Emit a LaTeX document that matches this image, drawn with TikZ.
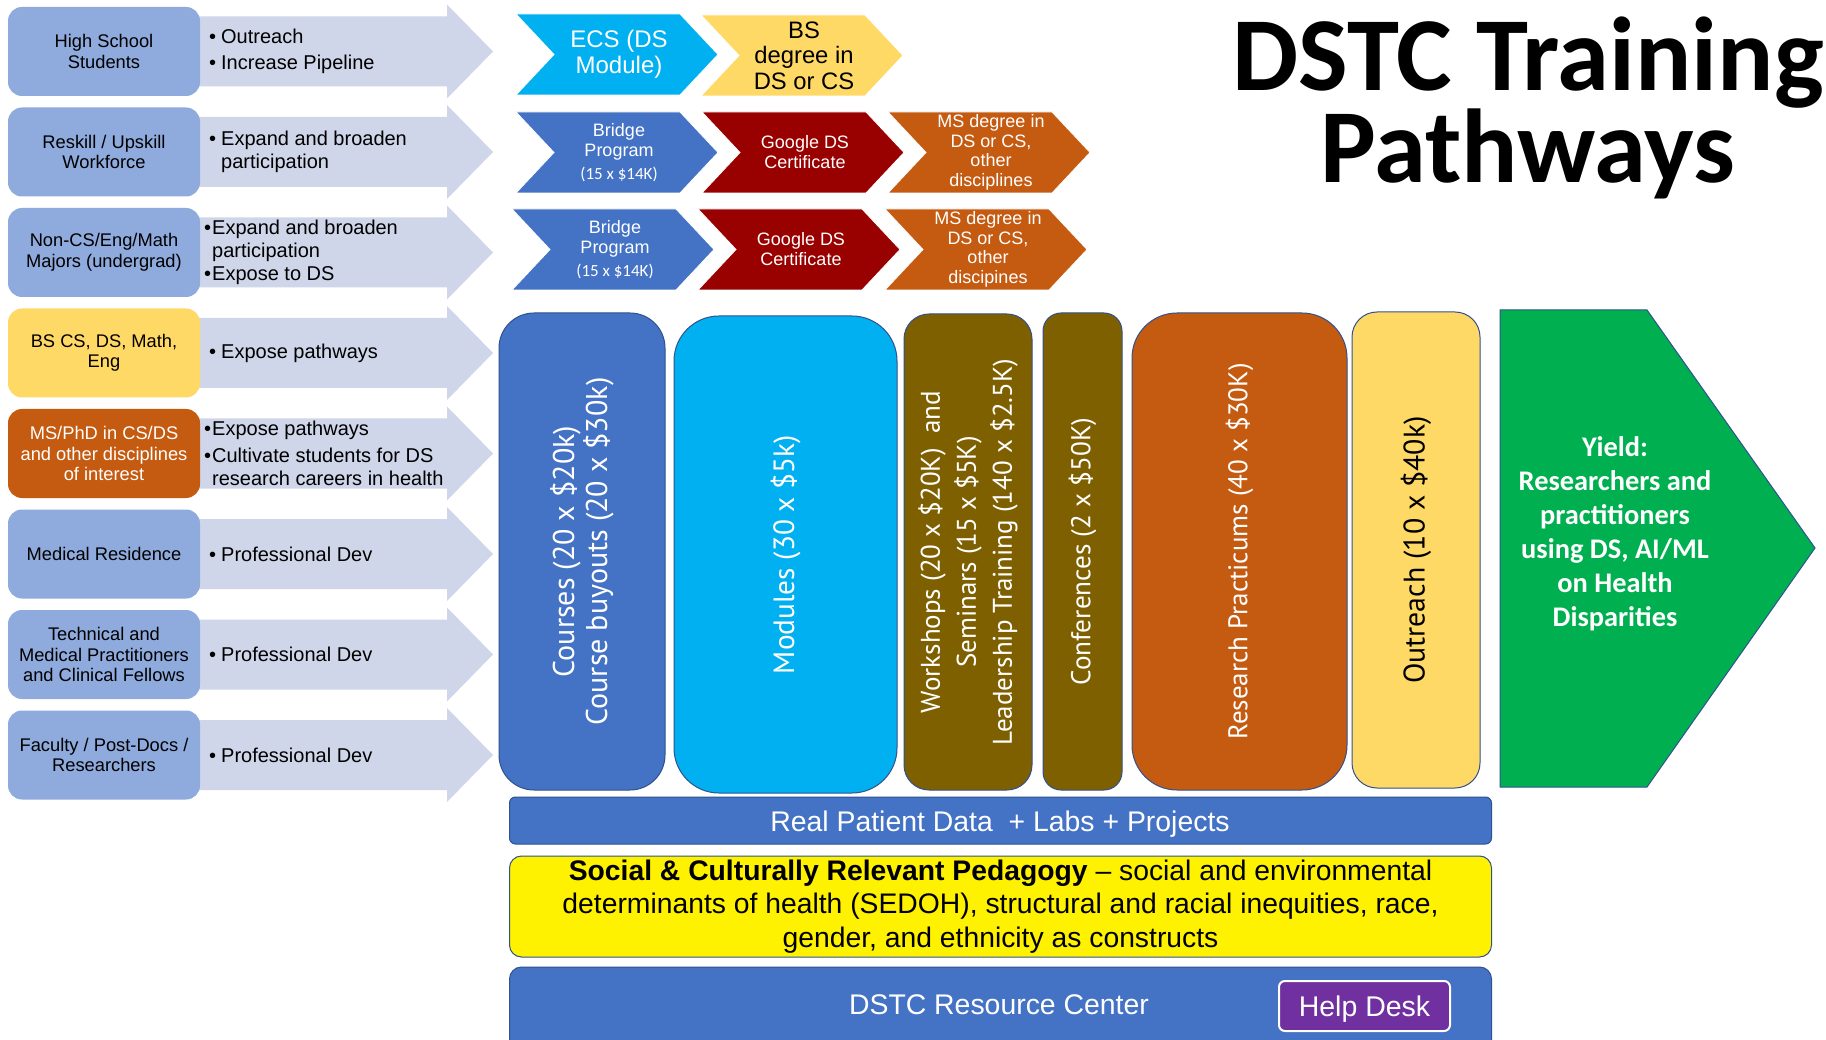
\documentclass[tikz,border=0pt]{standalone}
\usepackage{fontspec}
\setmainfont{Liberation Sans}
\newfontfamily\titlefont{Carlito}
\newfontfamily\colfont{PT Sans}
\usetikzlibrary{positioning}
\definecolor{boxblue}{HTML}{8FAADC}
\definecolor{arrowgrey}{HTML}{D0D6EA}
\definecolor{paleyellow}{HTML}{FFD966}
\definecolor{rust}{HTML}{C55A11}
\definecolor{skyblue}{HTML}{00B0F0}
\definecolor{midblue}{HTML}{4472C4}
\definecolor{darkred}{HTML}{990000}
\definecolor{olive}{HTML}{7F6000}
\definecolor{yieldgreen}{HTML}{00B050}
\definecolor{edgeblue}{HTML}{2F528F}
\definecolor{helppurple}{HTML}{7030A0}
\newcommand{\px}[2]{\fontsize{#1pt}{#2pt}\selectfont}
\newcommand{\bul}[1][12pt]{\makebox[#1][l]{•}}
\newcommand{\ind}[1][12pt]{\hspace*{#1}}
\newcommand{\chevron}[6]{%
  \fill[#4, draw=white, line width=0.8pt] (#2,#3) -- (#2+164,#3) -- (#2+202,#3+40.5)
    -- (#2+164,#3+81) -- (#2,#3+81) -- (#2+38,#3+40.5) -- cycle;
  \node[chevtext, #5] (#1) at (#2+103,#3+40.5) {#6};
}

\begin{document}
\begin{tikzpicture}[x=1pt, y=-1pt]
  \tikzset{
    grpbox/.style={rounded corners=14pt, fill=boxblue, minimum width=192pt, minimum height=89pt,
      align=center, font=\px{18.3}{20.5}, inner sep=2pt},
    bultext/.style={anchor=west, align=left, font=\px{20}{23}, inner sep=0pt},
    chevtext/.style={align=center, text=white, font=\px{18}{20}, inner sep=0pt},
    column/.style={rotate=90, rounded corners=#1, draw=edgeblue, line width=1pt, align=center,
      text=white, inner sep=0pt},
    bar/.style={draw=edgeblue, line width=1pt, minimum width=982pt, align=center, font=\px{28.3}{33.8}},
    heading/.style={font=\titlefont\bfseries\px{105}{86}, inner sep=0pt, align=center}
  }
  \useasboundingbox (0,0) rectangle (1826,1040);
  \clip (0,0) rectangle (1826,1040);
  \fill[white] (0,0) rectangle (1826,1040);

  % grey arrows behind the groups
  \foreach \i [evaluate=\i as \c using 51.5+100.5*\i] in {0,...,7} {
    \fill[arrowgrey] (195,\c-35) -- (447,\c-35) -- (447,\c-47) -- (493,\c)
      -- (447,\c+47) -- (447,\c+35) -- (195,\c+35) -- cycle;
  }

  % groups
  \node[grpbox] (grp-1) at (104,51.5) {High School\\Students};
  \node[grpbox] (grp-2) at (104,152) {Reskill / Upskill\\Workforce};
  \node[grpbox] (grp-3) at (104,252.5) {Non-CS/Eng/Math\\Majors (undergrad)};
  \node[grpbox, fill=paleyellow] (grp-4) at (104,353) {BS CS, DS, Math,\\Eng};
  \node[grpbox, fill=rust, text=white] (grp-5) at (104,453.5) {MS/PhD in CS/DS\\and other disciplines\\of interest};
  \node[grpbox] (grp-6) at (104,554) {Medical Residence};
  \node[grpbox] (grp-7) at (104,654.5) {Technical and\\Medical Practitioners\\and Clinical Fellows};
  \node[grpbox] (grp-8) at (104,755) {Faculty / Post-Docs /\\Researchers};

  % goals
  \node[bultext] (goal-1) at (209,51.5) {\bul Outreach\\[3pt]\bul Increase Pipeline};
  \node[bultext] (goal-2) at (209,152) {\bul Expand and broaden\\\ind participation};
  \node[bultext] (goal-3) at (204,252.5) {\bul[8pt]Expand and broaden\\\ind[8pt]participation\\\bul[8pt]Expose to DS};
  \node[bultext] (goal-4) at (209,353) {\bul Expose pathways};
  \node[bultext] (goal-5) at (204,453.5) {\bul[8pt]Expose pathways\\[4pt]\bul[8pt]Cultivate students for DS\\\ind[8pt]research careers in health};
  \node[bultext] (goal-6) at (209,554) {\bul Professional Dev};
  \node[bultext] (goal-7) at (209,654.5) {\bul Professional Dev};
  \node[bultext] (goal-8) at (209,755) {\bul Professional Dev};

  % degree chevrons
  \chevron{path-1-1}{516}{14}{skyblue}{font=\px{24}{26}}{ECS (DS\\Module)}
  \chevron{path-1-2}{701}{15}{paleyellow}{text=black, font=\px{23.8}{25.5}}{BS\\degree in\\DS or CS}
  \chevron{path-2-1}{516}{112}{midblue}{}{Bridge\\Program\\[3pt]{\titlefont\px{17}{20}(15 x \$14K)}}
  \chevron{path-2-2}{702}{112}{darkred}{}{Google DS\\Certificate}
  \chevron{path-2-3}{888}{112}{rust}{font=\px{18}{19.5}}{MS degree in\\DS or CS,\\other\\disciplines}
  \chevron{path-3-1}{512}{209}{midblue}{}{Bridge\\Program\\[3pt]{\titlefont\px{17}{20}(15 x \$14K)}}
  \chevron{path-3-2}{698}{209}{darkred}{}{Google DS\\Certificate}
  \chevron{path-3-3}{885}{209}{rust}{font=\px{18}{19.5}}{MS degree in\\DS or CS,\\other\\discipines}

  % title
  \node[heading, anchor=base] (title) at (1528,183) {DSTC Training\\Pathways};

  % activity columns
  \node[column=35pt, fill=midblue, minimum width=477pt, minimum height=166pt, font=\colfont\px{30}{33}] (courses) at (582,551.5)
    {Courses (20 x \$20k)\\Course buyouts (20 x \$30k)};
  \node[column=45pt, fill=skyblue, minimum width=477pt, minimum height=223pt, font=\colfont\px{29.3}{33}] (modules) at (785.5,554.5)
    {Modules (30 x \$5k)};
  \node[column=25pt, fill=olive, minimum width=476pt, minimum height=128pt, font=\colfont\px{27}{36}] (workshops) at (968,552)
    {Workshops (20 x \$20K)\ \ and\\Seminars (15 x \$5K)\\Leadership Training (140 x \$2.5K)};
  \node[column=18pt, fill=olive, minimum width=477pt, minimum height=79pt, font=\colfont\px{27.2}{33}] (conferences) at (1082.5,551.5)
    {Conferences (2 x \$50K)};
  \node[column=45pt, fill=rust, minimum width=477pt, minimum height=215pt, font=\colfont\px{27}{33}] (practicums) at (1239.5,551.5)
    {Research Practicums (40 x \$30K)};
  \node[column=25pt, fill=paleyellow, text=black, minimum width=476pt, minimum height=128pt, font=\colfont\px{29.8}{33}] (outreach) at (1416,550)
    {Outreach (10 x \$40k)};

  % yield
  \filldraw[fill=yieldgreen, draw=edgeblue, line width=1pt] (1500,310) -- (1647,310) -- (1815,548) -- (1647,787) -- (1500,787) -- cycle;
  \node[align=center, text=white, font=\titlefont\bfseries\px{28.4}{34}] (yield) at (1615,534)
    {Yield:\\Researchers and\\practitioners\\using DS, AI/ML\\on Health\\Disparities};

  % foundation bars
  \node[bar, fill=midblue, text=white, minimum height=47pt, rounded corners=6pt] (data-bar) at (1000.5,820.5) {};
  \node[text=white, font=\px{28.4}{30}] (data) at (1000,824) {Real Patient Data\ \ + Labs + Projects};
  \node[bar, fill=yellow, minimum height=101pt, rounded corners=12pt, below=11pt of data-bar] (sedoh-bar)
    {\textbf{Social \& Culturally Relevant Pedagogy} – social and environmental\\determinants of health (SEDOH), structural and racial inequities, race,\\gender, and ethnicity as constructs};
  \node[bar, fill=midblue, minimum height=115pt, rounded corners=12pt, below=9pt of sedoh-bar] (resource-bar) {};
  \node[text=white, font=\px{28.4}{30}] (resource) at (999,1005) {DSTC Resource Center};
  \node[fill=helppurple, draw=white, line width=2pt, rounded corners=6pt, minimum width=171pt, minimum height=50pt,
    text=white, font=\px{28.5}{30}] (helpdesk) at (1364.5,1006) {};
  \node[text=white, font=\px{28.5}{30}] (help) at (1364.5,1009) {Help Desk};
\end{tikzpicture}
\end{document}
